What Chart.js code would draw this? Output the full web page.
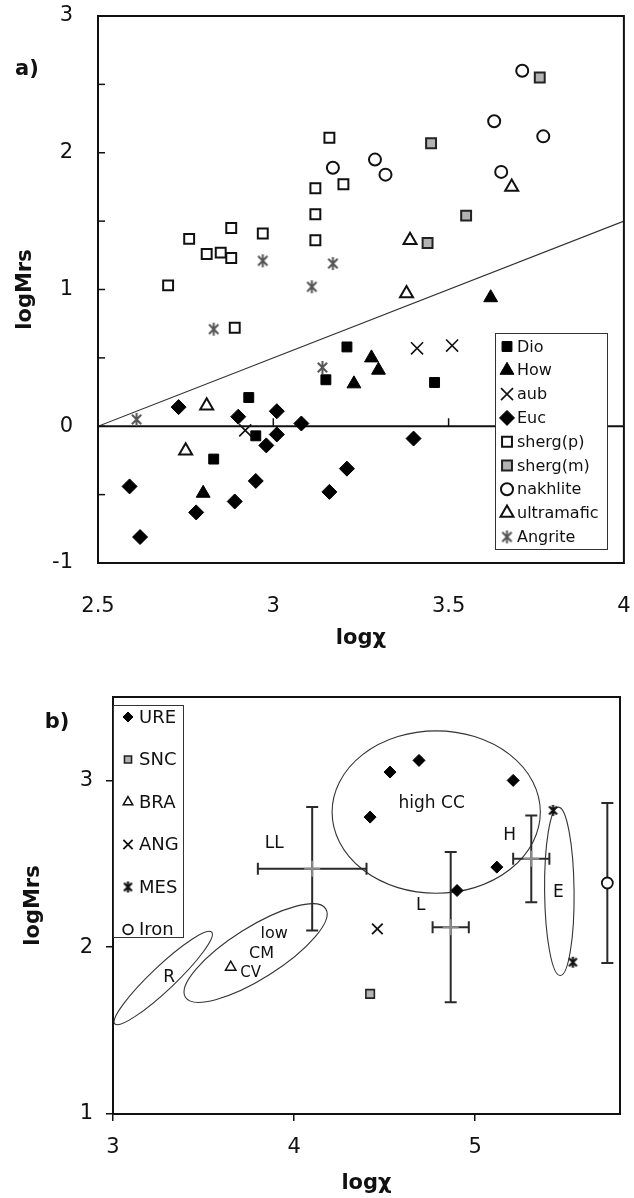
<!DOCTYPE html>
<html>
<head>
<meta charset="utf-8">
<title>logMrs vs logχ</title>
<script src="https://cdn.jsdelivr.net/npm/chart.js@4.4.0/dist/chart.umd.min.js"></script>
<style>
  html, body { margin: 0; padding: 0; background: #fff; }
  #wrapA { position: absolute; left: 0; top: 0; width: 634px; height: 660px; }
  #wrapB { position: absolute; left: 0; top: 660px; width: 634px; height: 538px; }
</style>
</head>
<body>
<div id="wrapA"><canvas id="chartA"></canvas></div>
<div id="wrapB"><canvas id="chartB"></canvas></div>
<script>
// ---------- panel a) ----------
var dioX = [2.93, 2.95, 2.83, 3.21, 3.15, 3.46];
var dioY = [0.21, -0.07, -0.24, 0.58, 0.34, 0.32];
var howX = [3.62, 3.28, 3.30, 3.23, 2.80];
var howY = [0.94, 0.50, 0.41, 0.31, -0.49];
var aubX = [2.92, 3.41, 3.51];
var aubY = [-0.03, 0.57, 0.59];
var eucX = [2.73, 2.59, 2.62, 2.78, 2.89, 2.95, 2.90, 3.01, 3.01, 2.98, 3.08, 3.40, 3.21, 3.16];
var eucY = [0.14, -0.44, -0.81, -0.63, -0.55, -0.40, 0.07, 0.11, -0.06, -0.14, 0.02, -0.09, -0.31, -0.48];
var shergPX = [2.76, 2.81, 2.85, 2.88, 2.88, 2.97, 2.70, 2.89, 3.12, 3.12, 3.12, 3.16, 3.20];
var shergPY = [1.37, 1.26, 1.27, 1.23, 1.45, 1.41, 1.03, 0.72, 1.74, 1.55, 1.36, 2.11, 1.77];
var shergMX = [3.76, 3.45, 3.55, 3.44];
var shergMY = [2.55, 2.07, 1.54, 1.34];
var nakhX = [3.71, 3.63, 3.77, 3.65, 3.17, 3.29, 3.32];
var nakhY = [2.60, 2.23, 2.12, 1.86, 1.89, 1.95, 1.84];
var ultraX = [3.68, 3.39, 3.38, 2.81, 2.75];
var ultraY = [1.75, 1.36, 0.97, 0.15, -0.18];
var angriteX = [2.97, 3.11, 3.17, 2.83, 2.61, 3.14];
var angriteY = [1.21, 1.02, 1.19, 0.71, 0.05, 0.43];
var divideX = [2.5, 4];
var divideY = [0, 1.5];

// ---------- panel b) ----------
var ureX = [4.53, 4.69, 5.21, 4.42, 5.12, 4.90];
var ureY = [3.05, 3.12, 3.00, 2.78, 2.48, 2.34];
var sncX = [4.42];
var sncY = [1.72];
var braX = [3.65];
var braY = [1.88];
var angX = [4.46];
var angY = [2.11];
var mesX = [5.43, 5.54];
var mesY = [2.82, 1.91];
var ironX = [5.73];
var ironY = [2.385];

// error crosses: LL, L, H, Iron
var errX = [4.10, 4.865, 5.31, 5.73];
var errY = [2.47, 2.12, 2.53, 2.385];
var errDx = [0.30, 0.10, 0.10, 0];
var errDy = [0.37, 0.45, 0.26, 0.48];

// ellipses: ends of the long axis, and short/long ratio
var ellX1 = [3.01, 3.40, 4.21, 5.46];
var ellY1 = [1.54, 1.70, 2.81, 2.84];
var ellX2 = [3.545, 4.175, 5.36, 5.47];
var ellY2 = [2.09, 2.23, 2.81, 1.83];
var ellRatio = [0.18, 0.31, 0.78, 0.175];

var regText = ['LL', 'L', 'H', 'E', 'high CC', 'low', 'CM', 'R', 'CV'];
var regX = [3.89, 4.70, 5.19, 5.46, 4.76, 3.89, 3.82, 3.31, 3.76];
var regY = [2.62, 2.25, 2.67, 2.33, 2.86, 2.08, 1.96, 1.82, 1.845];
var regSize = [17, 17, 17, 17, 17, 16, 16, 17, 15];

var FONT = '"DejaVu Sans", Verdana, sans-serif';
var INK = '#111';

function pts(xs, ys) {
  return xs.map(function (x, i) { return { x: x, y: ys[i] }; });
}

function asterisk(size, color, lw) {
  var c = document.createElement('canvas');
  c.width = size; c.height = size;
  var g = c.getContext('2d');
  var m = size / 2, r = size / 2 - 1, d = r * 0.72;
  g.strokeStyle = color; g.lineWidth = lw;
  g.beginPath();
  g.moveTo(m, m - r); g.lineTo(m, m + r);
  g.moveTo(m - d, m - d); g.lineTo(m + d, m + d);
  g.moveTo(m + d, m - d); g.lineTo(m - d, m + d);
  g.stroke();
  return c;
}

function marker(ctx, ds, r, x, y) {
  ctx.save();
  ctx.fillStyle = ds.backgroundColor || 'rgba(0,0,0,0)';
  ctx.strokeStyle = ds.borderColor || '#000';
  ctx.lineWidth = ds.borderWidth || 1;
  Chart.helpers.drawPoint(ctx, { pointStyle: ds.pointStyle, radius: r, rotation: 0, borderWidth: ds.borderWidth || 1 }, x, y);
  ctx.restore();
}

function makeKit(cfg) {
  return {
    id: 'kit',
    beforeDatasetsDraw: function (chart) {
      var ctx = chart.ctx, a = chart.chartArea;
      var sx = chart.scales.x, sy = chart.scales.y;
      ctx.save();
      if (cfg.ellipses) {
        ctx.strokeStyle = '#333'; ctx.lineWidth = 1.1;
        for (var i = 0; i < ellX1.length; i++) {
          var x1 = sx.getPixelForValue(ellX1[i]), y1 = sy.getPixelForValue(ellY1[i]);
          var x2 = sx.getPixelForValue(ellX2[i]), y2 = sy.getPixelForValue(ellY2[i]);
          var ra = Math.hypot(x2 - x1, y2 - y1) / 2;
          ctx.beginPath();
          ctx.ellipse((x1 + x2) / 2, (y1 + y2) / 2, ra, ra * ellRatio[i], Math.atan2(y2 - y1, x2 - x1), 0, Math.PI * 2);
          ctx.stroke();
        }
      }
      if (cfg.errors) {
        for (var j = 0; j < errX.length; j++) {
          var px = sx.getPixelForValue(errX[j]), py = sy.getPixelForValue(errY[j]);
          var t = sy.getPixelForValue(errY[j] + errDy[j]), b = sy.getPixelForValue(errY[j] - errDy[j]);
          ctx.strokeStyle = '#2a2a2a'; ctx.lineWidth = 2;
          ctx.beginPath();
          ctx.moveTo(px, t); ctx.lineTo(px, b);
          ctx.moveTo(px - 6, t); ctx.lineTo(px + 6, t);
          ctx.moveTo(px - 6, b); ctx.lineTo(px + 6, b);
          if (errDx[j] > 0) {
            var l = sx.getPixelForValue(errX[j] - errDx[j]), r = sx.getPixelForValue(errX[j] + errDx[j]);
            ctx.moveTo(l, py); ctx.lineTo(r, py);
            ctx.moveTo(l, py - 6); ctx.lineTo(l, py + 6);
            ctx.moveTo(r, py - 6); ctx.lineTo(r, py + 6);
          }
          ctx.stroke();
          if (errDx[j] > 0) {
            ctx.strokeStyle = '#8c8c8c'; ctx.lineWidth = 2;
            ctx.beginPath();
            ctx.moveTo(px - 8, py); ctx.lineTo(px + 8, py);
            ctx.moveTo(px, py - 8); ctx.lineTo(px, py + 8);
            ctx.stroke();
          }
        }
      }
      if (cfg.zeroLine) {
        var y0 = sy.getPixelForValue(0);
        ctx.strokeStyle = INK; ctx.lineWidth = 2;
        ctx.beginPath(); ctx.moveTo(a.left, y0); ctx.lineTo(a.right, y0); ctx.stroke();
        ctx.lineWidth = 1.5;
        sx.ticks.forEach(function (tk) {
          var p = sx.getPixelForValue(tk.value);
          if (p > a.left + 2 && p < a.right - 2) {
            ctx.beginPath(); ctx.moveTo(p, y0); ctx.lineTo(p, y0 - 8); ctx.stroke();
          }
        });
      }
      ctx.restore();
    },
    afterDatasetsDraw: function (chart) {
      var ctx = chart.ctx, a = chart.chartArea;
      var sx = chart.scales.x, sy = chart.scales.y;
      ctx.save();
      ctx.strokeStyle = INK; ctx.lineWidth = 2;
      ctx.strokeRect(a.left, a.top, a.right - a.left, a.bottom - a.top);
      if (cfg.innerTicks) {
        ctx.lineWidth = 1.5;
        sy.ticks.forEach(function (tk) {
          var p = sy.getPixelForValue(tk.value);
          ctx.beginPath(); ctx.moveTo(a.left, p); ctx.lineTo(a.left + 7, p); ctx.stroke();
        });
      }
      if (cfg.regions) {
        ctx.fillStyle = INK; ctx.textAlign = 'center'; ctx.textBaseline = 'middle';
        for (var i = 0; i < regText.length; i++) {
          ctx.font = regSize[i] + 'px ' + FONT;
          ctx.fillText(regText[i], sx.getPixelForValue(regX[i]), sy.getPixelForValue(regY[i]));
        }
      }
      ctx.fillStyle = INK; ctx.textAlign = 'center'; ctx.textBaseline = 'middle';
      ctx.font = 'bold 21px ' + FONT;
      ctx.fillText(cfg.tag, cfg.tagX, cfg.tagY);
      ctx.restore();
    },
    afterDraw: function (chart) {
      var L = cfg.legend, ctx = chart.ctx;
      ctx.save();
      ctx.fillStyle = '#fff';
      ctx.fillRect(L.left, L.top, L.width, L.height);
      ctx.strokeStyle = '#333'; ctx.lineWidth = 1;
      ctx.strokeRect(L.left + 0.5, L.top + 0.5, L.width, L.height);
      var k = 0;
      chart.data.datasets.forEach(function (ds) {
        if (ds.noLegend) return;
        var y = L.row0 + k * L.gap;
        marker(ctx, ds, ds.legendRadius, L.markX, y);
        ctx.fillStyle = INK; ctx.textAlign = 'left'; ctx.textBaseline = 'middle';
        ctx.font = L.size + 'px ' + FONT;
        ctx.fillText(ds.label, L.textX, y + 1);
        k++;
      });
      ctx.restore();
    }
  };
}

function numLabel(v) { return String(v); }

// invisible tick marks used only as spacing (ticks.padding would also shrink the plot)
var spacer = function (len) {
  return { display: true, drawOnChartArea: false, drawTicks: true, tickLength: len, color: 'rgba(0,0,0,0)' };
};

// ---------- chart a) ----------
new Chart(document.getElementById('chartA'), {
  type: 'scatter',
  data: {
    datasets: [
      { label: 'Dio', data: pts(dioX, dioY), pointStyle: 'rect', pointRadius: 7, legendRadius: 7,
        backgroundColor: '#000', borderColor: '#000', borderWidth: 1 },
      { label: 'How', data: pts(howX, howY), pointStyle: 'triangle', pointRadius: 8, legendRadius: 8,
        backgroundColor: '#000', borderColor: '#000', borderWidth: 1 },
      { label: 'aub', data: pts(aubX, aubY), pointStyle: 'crossRot', pointRadius: 8.5, legendRadius: 8.5,
        backgroundColor: '#000', borderColor: '#111', borderWidth: 1.6 },
      { label: 'Euc', data: pts(eucX, eucY), pointStyle: 'rectRot', pointRadius: 7.5, legendRadius: 7.5,
        backgroundColor: '#000', borderColor: '#000', borderWidth: 1 },
      { label: 'sherg(p)', data: pts(shergPX, shergPY), pointStyle: 'rect', pointRadius: 7, legendRadius: 7,
        backgroundColor: '#fff', borderColor: '#111', borderWidth: 2 },
      { label: 'sherg(m)', data: pts(shergMX, shergMY), pointStyle: 'rect', pointRadius: 7, legendRadius: 7,
        backgroundColor: '#b3b3b3', borderColor: '#222', borderWidth: 2 },
      { label: 'nakhlite', data: pts(nakhX, nakhY), pointStyle: 'circle', pointRadius: 6, legendRadius: 6,
        backgroundColor: '#fff', borderColor: '#111', borderWidth: 2 },
      { label: 'ultramafic', data: pts(ultraX, ultraY), pointStyle: 'triangle', pointRadius: 7.5, legendRadius: 7.5,
        backgroundColor: '#fff', borderColor: '#111', borderWidth: 2 },
      { label: 'Angrite', data: pts(angriteX, angriteY), pointStyle: asterisk(15, '#555', 2), pointRadius: 7, legendRadius: 7,
        backgroundColor: '#555', borderColor: '#555', borderWidth: 2 },
      { label: 'divide', noLegend: true, type: 'line', data: pts(divideX, divideY), showLine: true,
        borderColor: '#333', borderWidth: 1.1, pointRadius: 0, fill: false }
    ]
  },
  options: {
    responsive: true, maintainAspectRatio: false, animation: false, events: [],
    layout: { padding: { top: 16, right: 9, left: 0, bottom: 0 } },
    plugins: { legend: { display: false }, tooltip: { enabled: false } },
    scales: {
      x: {
        type: 'linear', min: 2.5, max: 4,
        ticks: { stepSize: 0.5, padding: 0, color: INK, font: { family: FONT, size: 21 }, callback: numLabel },
        grid: spacer(31), border: { display: false },
        title: { display: true, text: 'logχ', color: INK, font: { family: FONT, size: 21, weight: 'bold' }, padding: { top: 0, bottom: 9 } },
        afterFit: function (s) { s.height = 97; }
      },
      y: {
        min: -1, max: 3,
        ticks: { stepSize: 0.5, padding: 0, color: INK, font: { family: FONT, size: 21 },
          callback: function (v) { return Number.isInteger(v) ? String(v) : ''; } },
        grid: spacer(25), border: { display: false },
        title: { display: true, text: 'logMrs', color: INK, font: { family: FONT, size: 21, weight: 'bold' }, padding: { top: 13, bottom: 0 } },
        afterFit: function (s) { s.width = 98; }
      }
    }
  },
  plugins: [makeKit({
    zeroLine: true, innerTicks: true, tag: 'a)', tagX: 27, tagY: 70,
    legend: { left: 495, top: 333, width: 112, height: 216, row0: 346.5, gap: 23.8, markX: 507, textX: 517, size: 16 }
  })]
});

// ---------- chart b) ----------
new Chart(document.getElementById('chartB'), {
  type: 'scatter',
  data: {
    datasets: [
      { label: 'URE', data: pts(ureX, ureY), pointStyle: 'rectRot', pointRadius: 6, legendRadius: 5,
        backgroundColor: '#000', borderColor: '#000', borderWidth: 1 },
      { label: 'SNC', data: pts(sncX, sncY), pointStyle: 'rect', pointRadius: 6, legendRadius: 5,
        backgroundColor: '#b3b3b3', borderColor: '#222', borderWidth: 1.6 },
      { label: 'BRA', data: pts(braX, braY), pointStyle: 'triangle', pointRadius: 6, legendRadius: 5.5,
        backgroundColor: '#fff', borderColor: '#111', borderWidth: 1.5 },
      { label: 'ANG', data: pts(angX, angY), pointStyle: 'crossRot', pointRadius: 7.5, legendRadius: 6.5,
        backgroundColor: '#000', borderColor: '#111', borderWidth: 1.8 },
      { label: 'MES', data: pts(mesX, mesY), pointStyle: asterisk(13, '#111', 2.2), pointRadius: 6, legendRadius: 6,
        backgroundColor: '#111', borderColor: '#111', borderWidth: 2 },
      { label: 'Iron', data: pts(ironX, ironY), pointStyle: 'circle', pointRadius: 5.5, legendRadius: 4.8,
        backgroundColor: '#fff', borderColor: '#111', borderWidth: 1.8 }
    ]
  },
  options: {
    responsive: true, maintainAspectRatio: false, animation: false, events: [],
    layout: { padding: { top: 37, right: 14, left: 0, bottom: 0 } },
    plugins: { legend: { display: false }, tooltip: { enabled: false } },
    scales: {
      x: {
        type: 'linear', min: 3, max: 5.8,
        ticks: { stepSize: 1, includeBounds: false, padding: 14, color: INK, font: { family: FONT, size: 21 }, callback: numLabel },
        grid: { display: true, drawOnChartArea: false, drawTicks: true, tickLength: 7, color: INK, lineWidth: 1.5 },
        border: { display: false },
        title: { display: true, text: 'logχ', color: INK, font: { family: FONT, size: 21, weight: 'bold' }, padding: { top: 0, bottom: 2 } },
        afterFit: function (s) { s.height = 84; }
      },
      y: {
        min: 1, max: 3.5,
        ticks: { stepSize: 1, includeBounds: false, padding: 13, color: INK, font: { family: FONT, size: 21 }, callback: numLabel },
        grid: { display: true, drawOnChartArea: false, drawTicks: true, tickLength: 7, color: INK, lineWidth: 1.5 },
        border: { display: false },
        title: { display: true, text: 'logMrs', color: INK, font: { family: FONT, size: 21, weight: 'bold' }, padding: { top: 21, bottom: 0 } },
        afterFit: function (s) { s.width = 113; }
      }
    }
  },
  plugins: [makeKit({
    ellipses: true, errors: true, regions: true, tag: 'b)', tagX: 57, tagY: 63,
    legend: { left: 113, top: 45, width: 70, height: 232, row0: 57, gap: 42.5, markX: 128, textX: 139, size: 18 }
  })]
});
</script>
</body>
</html>
